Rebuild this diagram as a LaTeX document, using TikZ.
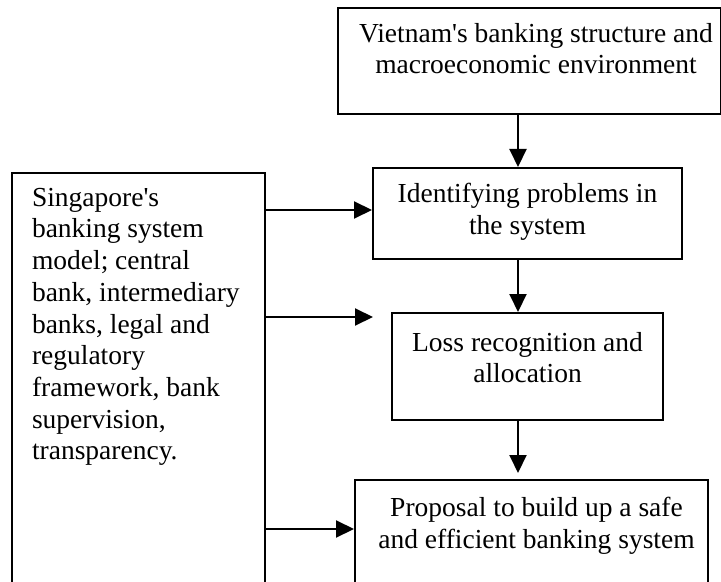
\documentclass[tikz,border=0pt]{standalone}
\usepackage{fontspec}
\setmainfont{Liberation Serif}
\usepackage{tikz}
\usetikzlibrary{arrows.meta, positioning}

% box text: width, height, top gap, text
\newcommand{\blocktext}[4]{\parbox[t][#2][t]{#1}{\vspace*{#3}\centering #4}}

\begin{document}
\begin{tikzpicture}[x=0.5pt, y=-0.5pt,
    block/.style={draw, rectangle, line width=1pt, inner sep=0pt, anchor=north west,
        font=\fontsize{13.75pt}{15.85pt}\selectfont},
    flow/.style={-{Triangle[length=9pt,width=8.5pt]}, line width=1pt}]
        \path[use as bounding box, fill=white] (0,0) rectangle (721,582);

        \node (viet) [block] at (337,7) {\blocktext{191.5pt}{53pt}{7.5pt}{\leftskip=6.5pt plus 1fil
            Vietnam\textquotesingle s banking structure and\\macroeconomic environment}};
        \node (ident) [block] at (372,167) {\blocktext{154.5pt}{45.5pt}{7.5pt}{Identifying problems in\\the system}};
        \node (loss) [block] at (391,312) {\blocktext{135.5pt}{53.5pt}{9.5pt}{Loss recognition and\\allocation}};
        \node (prop) [block] at (354,479) {\blocktext{176.5pt}{60pt}{8.5pt}{\leftskip=5pt plus 1fil
            Proposal to build up a safe\\and efficient banking system}};
        \node (left) [block] at (11,172) {\parbox[t][215pt][t]{126.5pt}{\vspace*{7.5pt}\raggedright\leftskip=10pt
            Singapore\textquotesingle s\\banking system\\model; central\\bank, intermediary\\banks, legal and\\regulatory\\framework, bank\\supervision,\\transparency.}};

        \coordinate (spine) at (518,0);
        \coordinate (in1) at ([yshift=1.75pt]ident.west);
        \coordinate (in2) at ([xshift=-9pt,yshift=-2.5pt]loss.north west);
        \coordinate (in3) at ([yshift=-25pt]prop.north west);

        \draw[flow] (viet.south -| spine) -- (ident.north -| spine);
        \draw[flow] (ident.south -| spine) -- (loss.north -| spine);
        \draw[flow, shorten >=3pt] (loss.south -| spine) -- (prop.north -| spine);
        \draw[flow] (left.east |- in1) -- (in1);
        \draw[flow] (left.east |- in2) -- (in2);
        \draw[flow] (left.east |- in3) -- (in3);
    \end{tikzpicture}
\end{document}
